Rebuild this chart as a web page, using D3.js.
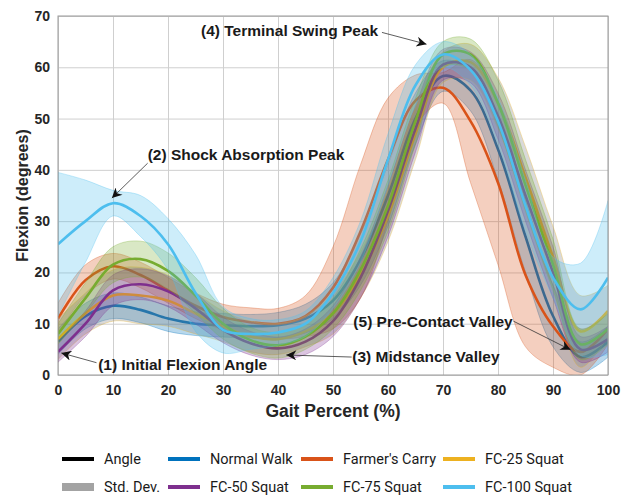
<!DOCTYPE html>
<html>
<head>
<meta charset="utf-8">
<script src="https://cdn.jsdelivr.net/npm/d3@7"></script>
<style>
body { margin: 0; background: #fff; }
svg { display: block; font-family: "Liberation Sans", Arial, sans-serif; }
</style>
</head>
<body>
<div id="chart"></div>
<script>
"use strict";
let width = 621;
let height = 496;
let plotLeft = 58, plotRight = 608, plotTop = 16, plotBottom = 375;

// gait percent sample points
let gaitPct = [0, 5, 10, 15, 20, 25, 30, 35, 40, 45, 50, 55, 60, 65, 70, 75, 80, 85, 90, 95, 100];

// mean knee flexion (degrees) and std. dev. per condition
let walkMean  = [6.5, 11.5, 13.5, 12.7, 11, 10, 9.7, 9.5, 9.7, 11, 14.5, 22.5, 35, 50, 58.3, 55.5, 44, 27, 11.5, 3.5, 6.5];
let walkSd    = [2.5, 2.5, 2.5, 2.5, 2.5, 2.3, 2.3, 2.3, 2.5, 2.8, 3.5, 5, 6, 5, 3, 4, 6, 7, 6, 3, 3];
let carryMean = [11, 18.5, 21.2, 19.5, 16.5, 13.5, 11.3, 10.3, 10, 11.5, 17, 28, 42, 53.5, 56, 49.5, 37.5, 19.5, 9.5, 4.5, 9];
let carrySd   = [3, 3, 2.5, 2.5, 2.5, 2.5, 2.5, 2.8, 3, 4, 8, 13, 12, 5, 3, 12, 16, 14, 8, 4.5, 3];
let fc25Mean  = [7, 12, 15.5, 15.5, 14.5, 12, 9.5, 7.5, 7, 8.5, 12, 19.5, 31, 47, 60, 61, 53, 38.5, 23, 8.5, 12.5];
let fc25Sd    = [4, 4, 5, 5.5, 5, 4, 3, 3, 3, 3, 4, 4.5, 5, 5, 3, 3.5, 5, 6, 6, 7, 5];
let fc50Mean  = [4.5, 10, 16.5, 17.7, 16.3, 13, 8.8, 6.2, 5.2, 6.5, 10.5, 19, 32, 48, 60.5, 60, 50.5, 35, 20, 5, 7];
let fc50Sd    = [2, 2.5, 3, 3, 3, 3, 2.5, 2.3, 2.2, 2.5, 3, 4, 5, 4.5, 3, 3, 4.5, 5, 5, 2.5, 2.5];
let fc75Mean  = [8, 15, 21.5, 22.6, 20.3, 15.5, 10, 6.8, 5.8, 7.5, 12, 20.5, 33, 49.5, 62.5, 62.5, 53, 37, 21.5, 6, 9];
let fc75Sd    = [2, 3, 3.5, 3.5, 3.5, 3.5, 3, 2.5, 2.5, 2.5, 3, 4, 5, 4.5, 2.5, 3, 4.5, 5, 5, 3, 3];
let fc100Mean = [25.5, 30, 33.5, 31, 25.5, 16, 8.8, 8, 8.3, 10, 16, 26, 42, 56.5, 62.5, 59.5, 49.5, 33, 19, 12.8, 19];
let fc100Sd   = [14, 8, 2.5, 4, 5, 7.5, 4.5, 3, 2.5, 2.5, 3, 4, 5, 4, 2.5, 3, 4.5, 5, 4, 9, 15];

let seriesNames = ["Normal Walk", "Farmer's Carry", "FC-25 Squat", "FC-50 Squat", "FC-75 Squat", "FC-100 Squat"];
let seriesMeans = [walkMean, carryMean, fc25Mean, fc50Mean, fc75Mean, fc100Mean];
let seriesSds = [walkSd, carrySd, fc25Sd, fc50Sd, fc75Sd, fc100Sd];
let lineColours = ["#0072BD", "#D95319", "#EDB120", "#7E2F8E", "#77AC30", "#4DBEEE"];
let bandColours = ["#0072BD", "#D95319", "#808080", "#7E2F8E", "#77AC30", "#4DBEEE"];

let xTicks = [0, 10, 20, 30, 40, 50, 60, 70, 80, 90, 100];
let yTicks = [0, 10, 20, 30, 40, 50, 60, 70];

let xScale = d3.scaleLinear().domain([0, 100]).range([plotLeft, plotRight]);
let yScale = d3.scaleLinear().domain([0, 70]).range([plotBottom, plotTop]);

let svg = d3.select("#chart")
            .append("svg")
            .attr("width", width)
            .attr("height", height);

svg.append("clipPath").attr("id", "plotclip")
   .append("rect")
   .attr("x", plotLeft).attr("y", plotTop)
   .attr("width", plotRight - plotLeft).attr("height", plotBottom - plotTop);

// Grid lines
svg.append("g")
   .attr("class", "grid")
   .attr("transform", "translate(0," + plotBottom + ")")
   .call(d3.axisBottom(xScale).tickValues(xTicks).tickSize(-(plotBottom - plotTop)).tickFormat(""));
svg.append("g")
   .attr("class", "grid")
   .attr("transform", "translate(" + plotLeft + ",0)")
   .call(d3.axisLeft(yScale).tickValues(yTicks).tickSize(-(plotRight - plotLeft)).tickFormat(""));
svg.selectAll(".grid .domain").remove();
svg.selectAll(".grid line").attr("stroke", "#cfcfcf").attr("stroke-width", 1);

// Bands and mean lines
let curve = d3.curveCatmullRom.alpha(0.5);
let plotArea = svg.append("g").attr("clip-path", "url(#plotclip)");

seriesMeans.forEach(function(means, s) {
    let sds = seriesSds[s];
    let band = d3.area()
        .x(function(d, i) { return xScale(gaitPct[i]); })
        .y0(function(d, i) { return yScale(d - sds[i]); })
        .y1(function(d, i) { return yScale(d + sds[i]); })
        .curve(curve);
    plotArea.append("path")
        .datum(means)
        .attr("d", band)
        .attr("fill", bandColours[s])
        .attr("fill-opacity", s == 2 ? 0.3 : 0.28)
        .attr("stroke", lineColours[s])
        .attr("stroke-opacity", 0.45)
        .attr("stroke-width", 0.7);

    let line = d3.line()
        .x(function(d, i) { return xScale(gaitPct[i]); })
        .y(function(d) { return yScale(d); })
        .curve(curve);
    plotArea.append("path")
        .datum(means)
        .attr("d", line)
        .attr("fill", "none")
        .attr("stroke", lineColours[s])
        .attr("stroke-width", 2.6);
});

// Frame
svg.append("rect")
   .attr("x", plotLeft).attr("y", plotTop)
   .attr("width", plotRight - plotLeft).attr("height", plotBottom - plotTop)
   .attr("fill", "none").attr("stroke", "#9a9a9a").attr("stroke-width", 1);

// Axis labels
let xAxis = svg.append("g")
   .attr("transform", "translate(0," + plotBottom + ")")
   .call(d3.axisBottom(xScale).tickValues(xTicks).tickSize(0).tickPadding(10));
let yAxis = svg.append("g")
   .attr("transform", "translate(" + plotLeft + ",0)")
   .call(d3.axisLeft(yScale).tickValues(yTicks).tickSize(0).tickPadding(8));
svg.selectAll(".domain").remove();
[xAxis, yAxis].forEach(function(ax) {
    ax.selectAll("text")
      .attr("font-family", "Liberation Sans, Arial, sans-serif")
      .attr("font-size", "14px")
      .attr("font-weight", "bold")
      .attr("fill", "#262626");
});

svg.append("text")
   .attr("x", 333).attr("y", 417)
   .attr("text-anchor", "middle")
   .attr("font-size", "17.5px").attr("font-weight", "bold").attr("fill", "#262626")
   .text("Gait Percent (%)");

svg.append("text")
   .attr("transform", "translate(28," + ((plotTop + plotBottom) / 2) + ") rotate(-90)")
   .attr("text-anchor", "middle")
   .attr("font-size", "16px").attr("font-weight", "bold").attr("fill", "#262626")
   .text("Flexion (degrees)");

// Arrowhead marker
svg.append("defs").append("marker")
   .attr("id", "arrow")
   .attr("viewBox", "0 0 10 10")
   .attr("refX", 10).attr("refY", 5)
   .attr("markerUnits", "userSpaceOnUse")
   .attr("markerWidth", 13).attr("markerHeight", 10)
   .attr("orient", "auto")
   .append("path")
   .attr("d", "M0,0 L10,5 L0,10 L3,5 Z")
   .attr("fill", "#111");

// Annotations: label text, text anchor point, arrow start, arrow tip (in data units)
let noteTexts = ["(1) Initial Flexion Angle", "(2) Shock Absorption Peak", "(3) Midstance Valley",
                 "(4) Terminal Swing Peak", "(5) Pre-Contact Valley"];
let noteTextPos = [[7.3, 2.1], [16.3, 42.9], [53.5, 3.5], [26, 67.1], [53.7, 10.5]];
let noteArrowFrom = [[7, 2.4], [16.3, 41.3], [53.4, 3.5], [58.9, 66.8], [82.8, 10.5]];
let noteArrowTo = [[0.6, 4.3], [9.8, 34.5], [41.5, 3.9], [67, 64.5], [93.2, 4.9]];

noteTexts.forEach(function(t, i) {
    svg.append("line")
       .attr("x1", xScale(noteArrowFrom[i][0])).attr("y1", yScale(noteArrowFrom[i][1]))
       .attr("x2", xScale(noteArrowTo[i][0])).attr("y2", yScale(noteArrowTo[i][1]))
       .attr("stroke", "#333").attr("stroke-width", 0.8)
       .attr("marker-end", "url(#arrow)");
    svg.append("text")
       .attr("x", xScale(noteTextPos[i][0])).attr("y", yScale(noteTextPos[i][1]))
       .attr("dy", "0.35em")
       .attr("font-size", "15.5px").attr("font-weight", "bold").attr("fill", "#1a1a1a")
       .text(t);
});

// Legend
let legendNames = ["Angle", "Normal Walk", "Farmer's Carry", "FC-25 Squat",
                   "Std. Dev.", "FC-50 Squat", "FC-75 Squat", "FC-100 Squat"];
let legendColours = ["#000000", "#0072BD", "#D95319", "#EDB120", "#a3a3a3", "#7E2F8E", "#77AC30", "#4DBEEE"];
let legendCols = [62, 168, 301, 443];
let legendRows = [459, 487];

legendNames.forEach(function(name, i) {
    let lx = legendCols[i % 4];
    let ly = legendRows[Math.floor(i / 4)];
    svg.append("line")
       .attr("x1", lx).attr("x2", lx + 32)
       .attr("y1", ly).attr("y2", ly)
       .attr("stroke", legendColours[i])
       .attr("stroke-width", name == "Std. Dev." ? 8 : 4);
    svg.append("text")
       .attr("x", lx + 42).attr("y", ly)
       .attr("dy", "0.35em")
       .attr("font-family", "Roboto, sans-serif")
       .attr("font-size", "14.5px").attr("fill", "#1a1a1a")
       .text(name);
});
</script>
</body>
</html>
